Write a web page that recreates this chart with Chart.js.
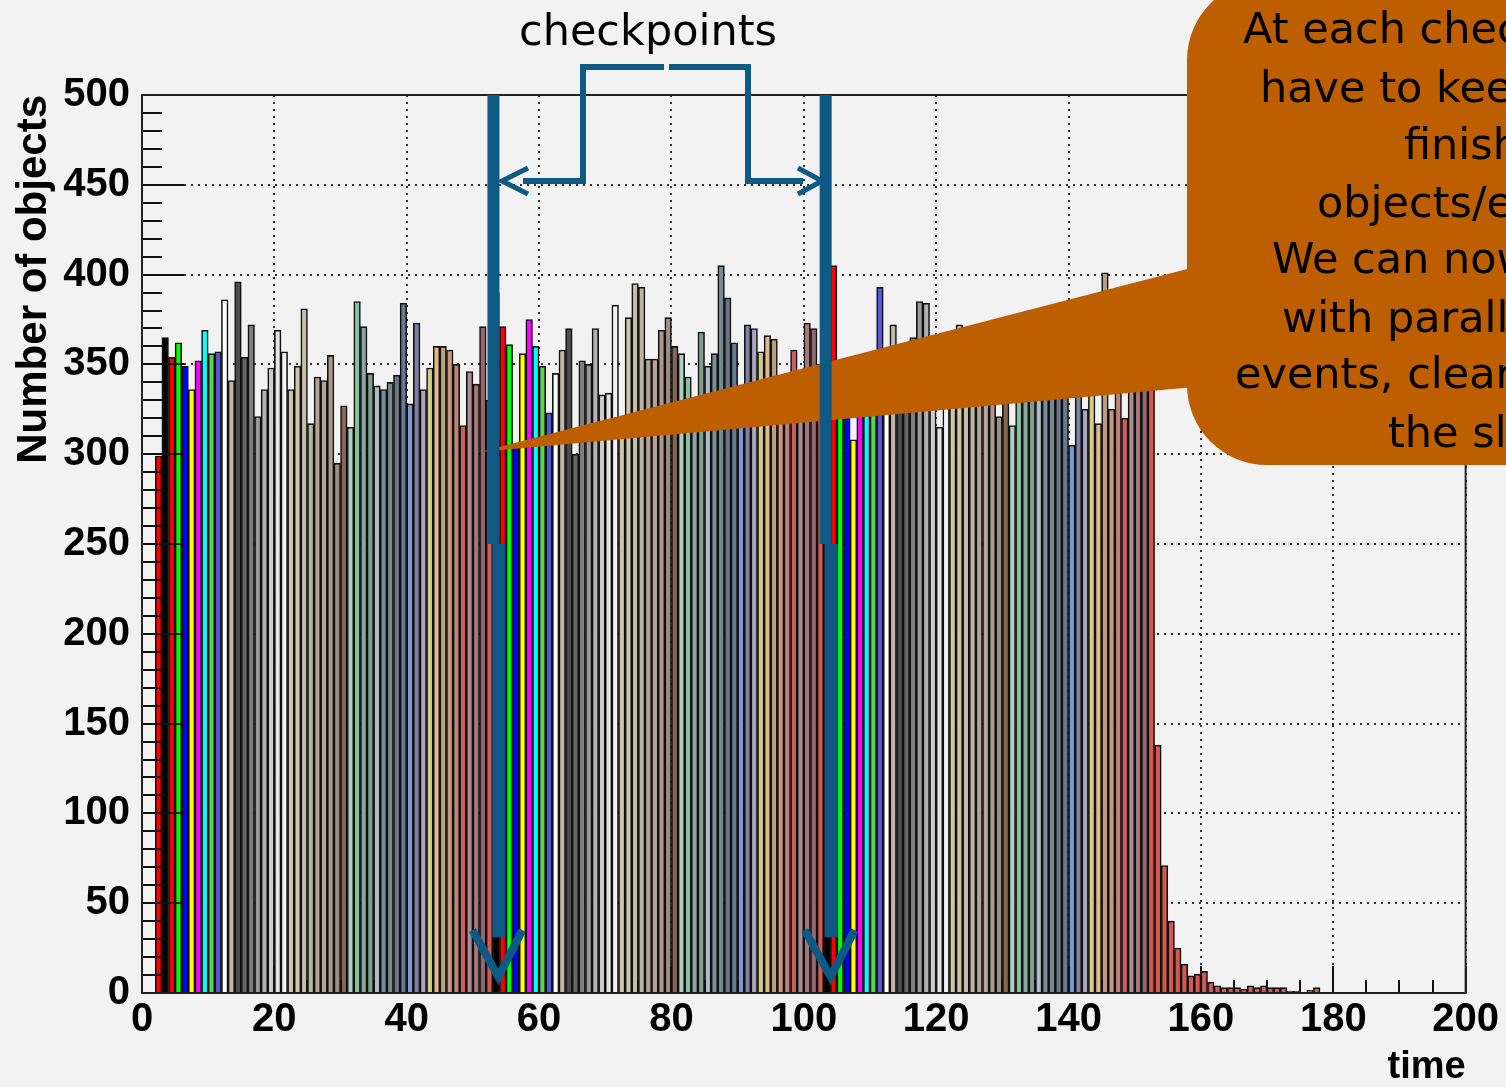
<!DOCTYPE html>
<html>
<head>
<meta charset="utf-8">
<script src="https://cdn.jsdelivr.net/npm/chart.js@4.4.1/dist/chart.umd.min.js"></script>
<style>
  html, body { margin: 0; padding: 0; background: #f2f2f2; }
</style>
</head>
<body>
<canvas id="chart" width="1506" height="1087"></canvas>
<script>
// histogram bins are 1 time unit wide, the first filled bin starts at t = 2
const firstBin = 2;
// objects per bin, bins 2..152 (the stacked events)
const counts = [
  299, 365, 354, 362, 349, 336, 352, 369, 356, 357, 386, 341, 396, 354, 372, 321, 336, 348, 369, 357,
  336, 349, 381, 317, 343, 341, 355, 295, 327, 315, 385, 371, 345, 338, 336, 340, 344, 384, 328, 373,
  336, 348, 360, 360, 358, 350, 316, 346, 339, 371, 330, 390,
  371, 361, 305, 356, 375, 360, 349, 323, 345, 358, 370, 300, 352, 350, 370, 333, 334, 383, 320, 376,
  395, 393, 353, 353, 369, 376, 360, 356, 343, 330, 368, 349, 356, 405, 387, 362, 335, 372, 370, 357,
  366, 364, 330, 340, 358, 345, 373, 370, 350, 360, 405,
  340, 335, 308, 345, 340, 350, 393, 330, 372, 350, 360, 365, 385, 384,
  345, 315, 360, 340, 372, 350, 338, 365, 345, 352, 321, 348, 316, 360, 342, 370, 335, 355, 348, 362,
  340, 305, 350, 325, 358, 317, 401, 325, 348, 320, 352, 345, 340, 336
];
// the last event draining out, bins 153..177
const tailCounts = [138, 71, 40, 25, 16, 9.5, 10.5, 12, 6, 4, 3, 3, 3, 2, 4, 3, 4, 3, 3, 3, 1, 1, 0, 1.5, 3];
// first bin of each 50-event colour cycle
const cycleStarts = [3, 53, 103];
const checkpoints = [53.1, 103.3];
const xTickStep = 20;
const yTickStep = 50;

// ROOT colour indices 1..50
const rootColors = [
  '#000000', '#ff0000', '#00ff00', '#0000ff', '#ffff00', '#ff00ff', '#00ffff', '#59d454', '#5954d9', '#ffffff',
  '#c0b6ac', '#4c4c4c', '#666666', '#7f7f7f', '#999999', '#b2b2b2', '#cccccc', '#e5e5e5', '#f2f2f2', '#ccc6aa',
  '#ccc6aa', '#c1bfa8', '#bab5a3', '#b2a596', '#b7a39b', '#ad998c', '#9b8e82', '#876656', '#afcec6', '#84c1a3',
  '#89a8a0', '#829e8c', '#adbcc6', '#7a8e99', '#758a91', '#6b7784', '#667a91', '#7d99d1', '#7f7fa1', '#aaa6bf',
  '#d3ce87', '#ddba87', '#bc9e82', '#c6997d', '#bf8277', '#ce5e60', '#aa8e93', '#a5777a', '#936870', '#d4594f'
];

function colorForBin(b) {
  let idx = 2;
  cycleStarts.forEach(s => { if (b >= s) idx = b - s + 1; });
  return rootColors[idx - 1];
}

const points = [];
const colors = [];
counts.forEach((v, i) => {
  const b = firstBin + i;
  points.push({ x: b + 0.5, y: v });
  colors.push(colorForBin(b));
});
tailCounts.forEach((v, i) => {
  const b = firstBin + counts.length + i;
  points.push({ x: b + 0.5, y: v });
  colors.push(rootColors[49]);
});

const lineBlue = '#0f5a85';
const bubbleColor = '#bd5e00';
const textFont = '43px "DejaVu Sans"';

const bubbleLines = [
  ['At each checkpoint we', 1243, 43],
  ['have to keep all', 1260, 102],
  ['finished', 1404, 159],
  ['objects/events.', 1317, 217],
  ['We can now work', 1272, 273],
  ['with parallel', 1282, 332],
  ['events, clearing', 1235, 388],
  ['the slots', 1388, 447]
];

function roundRect(ctx, x, y, w, h, r) {
  ctx.moveTo(x + r, y);
  ctx.lineTo(x + w - r, y);
  ctx.arcTo(x + w, y, x + w, y + r, r);
  ctx.lineTo(x + w, y + h - r);
  ctx.arcTo(x + w, y + h, x + w - r, y + h, r);
  ctx.lineTo(x + r, y + h);
  ctx.arcTo(x, y + h, x, y + h - r, r);
  ctx.lineTo(x, y + r);
  ctx.arcTo(x, y, x + r, y, r);
}

const rootStyle = {
  id: 'rootStyle',
  afterDatasetsDraw(chart) {
    const { ctx, chartArea: a, scales: { x, y } } = chart;
    ctx.save();
    // ticks drawn inside the frame like ROOT does
    ctx.strokeStyle = '#111';
    ctx.lineWidth = 2;
    ctx.beginPath();
    for (let v = 0; v <= 500; v += 10) {
      const py = Math.round(y.getPixelForValue(v));
      const len = v % 50 === 0 ? 42 : 20;
      ctx.moveTo(a.left, py);
      ctx.lineTo(a.left + len, py);
    }
    for (let v = 0; v <= 200; v += 5) {
      const px = Math.round(x.getPixelForValue(v));
      const len = v % 20 === 0 ? 27 : 13;
      ctx.moveTo(px, a.bottom);
      ctx.lineTo(px, a.bottom - len);
    }
    ctx.stroke();
    ctx.strokeStyle = '#222';
    ctx.strokeRect(a.left, a.top, a.right - a.left, a.bottom - a.top);
    ctx.restore();
  },
  afterDraw(chart) {
    const { ctx, scales: { x, y } } = chart;
    ctx.save();

    // speech bubble
    ctx.fillStyle = bubbleColor;
    ctx.beginPath();
    roundRect(ctx, 1187, -20, 420, 485, 80);
    ctx.fill();
    ctx.beginPath();
    ctx.moveTo(1195, 267);
    ctx.lineTo(480, 452);
    ctx.lineTo(1195, 387);
    ctx.closePath();
    ctx.fill();

    ctx.fillStyle = '#000';
    ctx.font = textFont;
    ctx.textBaseline = 'alphabetic';
    ctx.textAlign = 'left';
    bubbleLines.forEach(([t, tx, ty]) => ctx.fillText(t, tx, ty));
    ctx.fillText('checkpoints', 519, 45);

    // checkpoint markers
    ctx.strokeStyle = lineBlue;
    ctx.fillStyle = lineBlue;
    checkpoints.forEach(t => {
      const px = x.getPixelForValue(t);
      const yTop = y.getPixelForValue(500);
      const yMid = y.getPixelForValue(250);
      const yLow = y.getPixelForValue(31);
      ctx.fillRect(px - 6, yTop, 12, yMid - yTop);
      ctx.fillRect(px - 1, yMid, 13, yLow - yMid);
      const tipY = y.getPixelForValue(9);
      const armY = y.getPixelForValue(35);
      ctx.lineWidth = 8;
      ctx.beginPath();
      ctx.moveTo(px - 21, armY);
      ctx.lineTo(px + 5, tipY);
      ctx.lineTo(px + 29, armY);
      ctx.stroke();
    });

    // bracket from the label to both checkpoints
    ctx.lineWidth = 6;
    ctx.lineJoin = 'miter';
    ctx.beginPath();
    ctx.moveTo(664, 67);
    ctx.lineTo(583, 67);
    ctx.lineTo(583, 181);
    ctx.lineTo(523, 181);
    ctx.moveTo(669, 67);
    ctx.lineTo(748, 67);
    ctx.lineTo(748, 181);
    ctx.lineTo(803, 181);
    ctx.stroke();
    ctx.lineWidth = 5;
    ctx.beginPath();
    ctx.moveTo(528, 168);
    ctx.lineTo(502, 181);
    ctx.lineTo(528, 194);
    ctx.moveTo(798, 168);
    ctx.lineTo(822, 181);
    ctx.lineTo(798, 194);
    ctx.stroke();
    ctx.restore();
  }
};

const bold = size => ({ family: '"Liberation Sans", Arial, sans-serif', weight: 'bold', size: size, lineHeight: 1 });

new Chart(document.getElementById('chart'), {
  type: 'bar',
  data: {
    datasets: [{
      data: points,
      backgroundColor: colors,
      borderColor: '#111',
      borderWidth: 1.6,
      barPercentage: 1,
      categoryPercentage: 1
    }]
  },
  options: {
    responsive: false,
    animation: false,
    devicePixelRatio: 1,
    layout: { padding: { top: 95, right: 38, left: 0, bottom: 0 } },
    plugins: { legend: { display: false }, tooltip: { enabled: false } },
    scales: {
      x: {
        type: 'linear',
        min: 0,
        max: 200,
        offset: false,
        afterFit: s => { s.height = 94; },
        ticks: { stepSize: xTickStep, color: '#000', font: bold(40), padding: 7, maxRotation: 0 },
        grid: { color: '#333', lineWidth: 2, drawTicks: false, offset: false },
        border: { display: false, dash: [2, 5] },
        title: { display: true, text: 'time', align: 'end', color: '#000', font: bold(38), padding: { top: 0, bottom: 0 } }
      },
      y: {
        min: 0,
        max: 500,
        afterFit: s => { s.width = 142; },
        ticks: { stepSize: yTickStep, color: '#000', font: bold(40), padding: 12 },
        grid: { color: '#333', lineWidth: 2, drawTicks: false },
        border: { display: false, dash: [2, 5] },
        title: { display: true, text: 'Number of objects', align: 'end', color: '#000', font: bold(42), padding: { top: 13, bottom: 0 } }
      }
    }
  },
  plugins: [rootStyle]
});
</script>
</body>
</html>
